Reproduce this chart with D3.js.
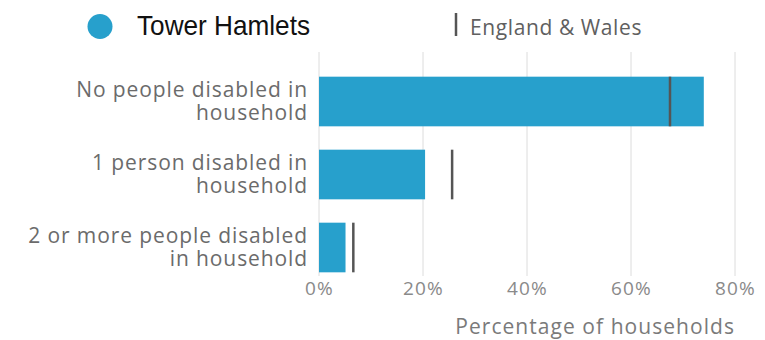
<!DOCTYPE html>
<html>
<head>
<meta charset="utf-8">
<script src="https://cdn.jsdelivr.net/npm/d3@7"></script>
<style>
  html, body { margin: 0; padding: 0; background: #fff; }
  svg { display: block; }
  text { font-family: "Open Sans", sans-serif; }
</style>
</head>
<body>
<svg id="chart" width="765" height="340"></svg>
<script>
// Households by number of disabled people
const categories = [
  ["No people disabled in", "household"],
  ["1 person disabled in", "household"],
  ["2 or more people disabled", "in household"]
];
const towerHamlets = [74.0, 20.4, 5.1];
const englandWales = [67.5, 25.6, 6.6];
const xTicks = [0, 20, 40, 60, 80];
const areaName = "Tower Hamlets";
const comparisonName = "England & Wales";
const axisTitle = "Percentage of households";

const svg = d3.select("#chart");

const x = d3.scaleLinear().domain([0, 80]).range([319, 735]);
const y = d3.scaleBand()
  .domain(d3.range(categories.length))
  .range([65, 284])
  .paddingInner(0.32)
  .paddingOuter(0.16);

const blue = "#27a0cc";

// gridlines
svg.append("g")
  .selectAll("line")
  .data(xTicks)
  .join("line")
  .attr("x1", d => x(d)).attr("x2", d => x(d))
  .attr("y1", 52).attr("y2", 276)
  .attr("stroke", "#dcdcdc").attr("stroke-width", 1);

// x axis tick labels
const xAxis = d3.axisBottom(x).tickValues(xTicks).tickFormat(d => d + "%").tickSize(0).tickPadding(0);
const gx = svg.append("g").attr("transform", "translate(0,288)").call(xAxis);
gx.select(".domain").remove();
gx.selectAll("text")
  .attr("dy", "0.35em")
  .attr("fill", "#8a8a8a")
  .style("font-size", "19px")
  .style("letter-spacing", "1.2px")
  .style("font-family", "'Open Sans', sans-serif");

// bars
svg.append("g")
  .selectAll("rect")
  .data(towerHamlets)
  .join("rect")
  .attr("x", x(0))
  .attr("y", (d, i) => y(i))
  .attr("width", d => x(d) - x(0))
  .attr("height", y.bandwidth())
  .attr("fill", blue);

// comparison markers
svg.append("g")
  .selectAll("line")
  .data(englandWales)
  .join("line")
  .attr("x1", d => x(d)).attr("x2", d => x(d))
  .attr("y1", (d, i) => y(i))
  .attr("y2", (d, i) => y(i) + y.bandwidth())
  .attr("stroke", "#555").attr("stroke-width", 2.5);

// category labels
const labels = svg.append("g")
  .selectAll("text")
  .data(categories)
  .join("text")
  .attr("text-anchor", "end")
  .attr("fill", "#6b6b6b")
  .style("font-size", "21px")
  .style("letter-spacing", "0.9px")
  .attr("transform", (d, i) => `translate(308,${y(i) + y.bandwidth() / 2})`);
labels.selectAll("tspan")
  .data(d => d)
  .join("tspan")
  .attr("x", 0)
  .attr("y", (d, j) => (j === 0 ? -11.5 : 11.5))
  .attr("dy", "0.35em")
  .text(d => d);

// axis title
svg.append("text")
  .attr("x", 735).attr("y", 327)
  .attr("dy", "0.35em")
  .attr("text-anchor", "end")
  .attr("fill", "#7a7a7a")
  .style("font-size", "21px")
  .style("letter-spacing", "1.05px")
  .text(axisTitle);

// legend
const legend = svg.append("g");
legend.append("circle")
  .attr("cx", 100).attr("cy", 26.5).attr("r", 12.5)
  .attr("fill", blue);
legend.append("text")
  .attr("x", 137).attr("y", 35)
  .attr("fill", "#111")
  .attr("textLength", 173)
  .attr("lengthAdjust", "spacingAndGlyphs")
  .style("font-family", "'Liberation Sans', Arial, sans-serif")
  .style("font-size", "28px")
  .text(areaName);
legend.append("line")
  .attr("x1", 456).attr("x2", 456)
  .attr("y1", 13).attr("y2", 36)
  .attr("stroke", "#555").attr("stroke-width", 2.5);
legend.append("text")
  .attr("x", 470).attr("y", 27.5)
  .attr("dy", "0.35em")
  .attr("fill", "#606060")
  .style("font-size", "21px")
  .style("letter-spacing", "0.6px")
  .text(comparisonName);
</script>
</body>
</html>
